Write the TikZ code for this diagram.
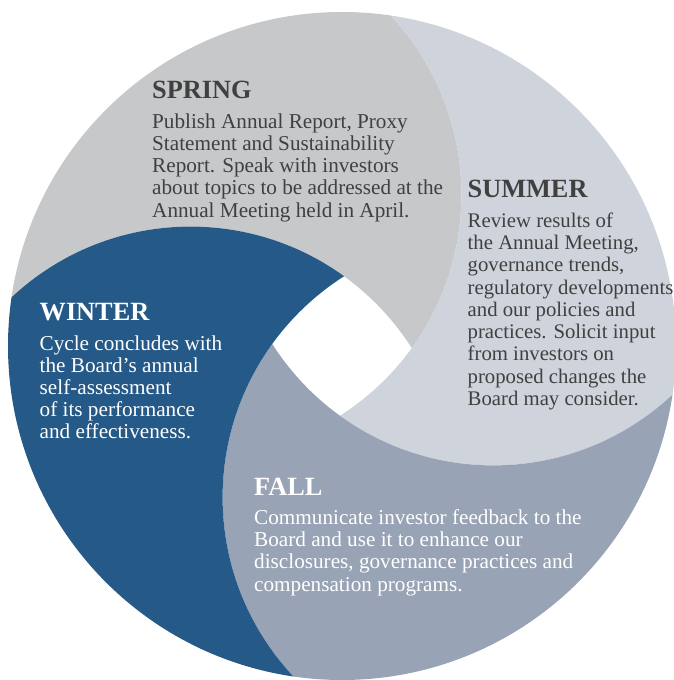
\documentclass[tikz,border=0pt]{standalone}
\usepackage{fontspec}
\setmainfont{Liberation Serif}
\definecolor{springc}{RGB}{199,200,202}
\definecolor{summerc}{RGB}{206,211,220}
\definecolor{fallc}{RGB}{152,163,181}
\definecolor{winterc}{RGB}{37,89,135}
\definecolor{darktext}{RGB}{64,64,64}
\begin{document}
\begin{tikzpicture}[x=1pt,y=-1pt,
  head/.style={anchor=base west, inner sep=0pt, font=\fontsize{26.3}{30}\selectfont\bfseries},
  body/.style={anchor=base west, inner sep=0pt, align=left, font=\fontsize{21.2}{22.2}\selectfont},
  region/.style={even odd rule}
]
\useasboundingbox (0,0) rectangle (673,680);
\coordinate (C) at (342,346);
\coordinate (c1) at (190.6,488.6);
\coordinate (c2) at (199.4,194.6);
\coordinate (c3) at (493.4,203.4);
\coordinate (c4) at (484.6,497.4);
\begin{scope}
  \clip (C) circle[radius=334pt];
  % Spring = D2 minus D1
  \begin{scope}
    \clip (c2) circle[radius=262pt];
    \fill[springc, region] (-20,-20) rectangle (700,700) (c1) circle[radius=262pt];
  \end{scope}
  % Summer = D3 minus D2
  \begin{scope}
    \clip (c3) circle[radius=262pt];
    \fill[summerc, region] (-20,-20) rectangle (700,700) (c2) circle[radius=262pt];
  \end{scope}
  % Fall = D4 minus D3
  \begin{scope}
    \clip (c4) circle[radius=262pt];
    \fill[fallc, region] (-20,-20) rectangle (700,700) (c3) circle[radius=262pt];
  \end{scope}
  % Winter = D1 minus D4
  \begin{scope}
    \clip (c1) circle[radius=262pt];
    \fill[winterc, region] (-20,-20) rectangle (700,700) (c4) circle[radius=262pt];
  \end{scope}
\end{scope}

% body nodes: base anchor = baseline of the last line
\node[head, text=darktext] (springh) at (152,98.3) {SPRING};
\node[body, text=darktext] (springb) at (152,217.1) {Publish Annual Report, Proxy\\Statement and Sustainability\\Report. Speak with investors\\about topics to be addressed at the\\Annual Meeting held in April.};

\node[head, text=darktext] (summerh) at (467.5,197.5) {SUMMER};
\node[body, text=darktext, font=\fontsize{20.75}{22.3}\selectfont] (summerb) at (467.5,405.5) {Review results of\\the Annual Meeting,\\governance trends,\\regulatory developments\\and our policies and\\practices. Solicit input\\from investors on\\proposed changes the\\Board may consider.};

\node[head, text=white] (winterh) at (39.5,320) {WINTER};
\node[body, text=white] (winterb) at (39.5,438.8) {Cycle concludes with\\the Board’s annual\\self-assessment\\of its performance\\and effectiveness.};

\node[head, text=white] (fallh) at (254,495) {FALL};
\node[body, text=white] (fallb) at (254,591.1) {Communicate investor feedback to the\\Board and use it to enhance our\\disclosures, governance practices and\\compensation programs.};
\end{tikzpicture}
\end{document}
